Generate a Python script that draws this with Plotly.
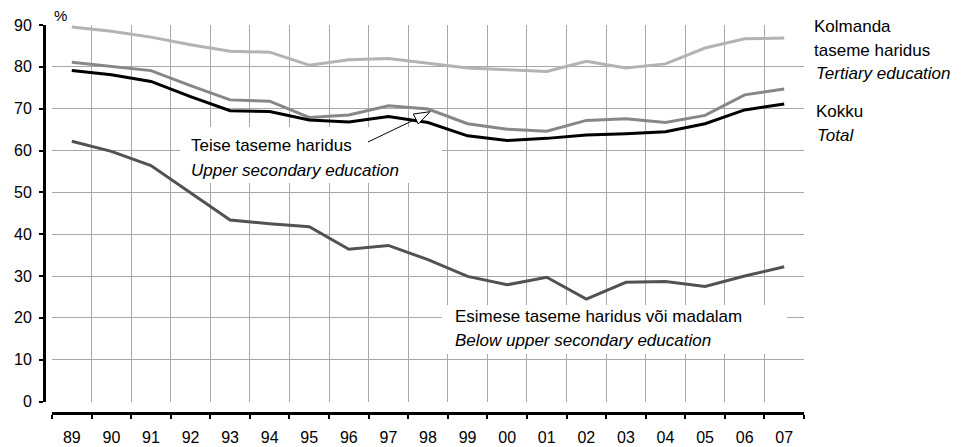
import plotly.graph_objects as go

# ---------------- data ----------------
years = ["89", "90", "91", "92", "93", "94", "95", "96", "97", "98",
         "99", "00", "01", "02", "03", "04", "05", "06", "07"]
tertiary = [89.5, 88.5, 87.1, 85.3, 83.7, 83.5, 80.4, 81.7, 82.0, 80.9,
            79.7, 79.3, 78.9, 81.3, 79.7, 80.7, 84.5, 86.7, 86.9]
upper_secondary = [81.1, 80.1, 79.1, 75.5, 72.1, 71.8, 67.9, 68.5, 70.7, 69.9,
                   66.4, 65.1, 64.6, 67.2, 67.6, 66.7, 68.4, 73.3, 74.7]
total = [79.1, 78.1, 76.5, 72.9, 69.5, 69.3, 67.3, 66.8, 68.1, 66.7,
         63.5, 62.4, 62.9, 63.7, 64.0, 64.5, 66.4, 69.7, 71.1]
below_upper = [62.2, 59.8, 56.4, 49.8, 43.4, 42.5, 41.8, 36.4, 37.3, 33.9,
               29.9, 27.9, 29.7, 24.5, 28.5, 28.7, 27.5, 30.0, 32.2]
y_ticks = [0, 10, 20, 30, 40, 50, 60, 70, 80, 90]

# ---------------- layout geometry (page pixel coords) ----------------
OFF = 8                      # default body margin of the html page
PAGE_W, PAGE_H = 966, 447
W, H = PAGE_W - OFF, PAGE_H - OFF
AX_LEFT, AX_BOT = 44, 413    # detached axis lines (page coords)
PX_LEFT, PX_RIGHT = 52, 804  # data area (page coords)
PY_TOP, PY_BOT = 25, 401.5

L = AX_LEFT - OFF
T = PY_TOP - OFF
R = PAGE_W - PX_RIGHT
B = PAGE_H - AX_BOT
IW, IH = W - L - R, H - T - B
n = len(years)
xs = list(range(n))
FONT = "Liberation Sans, Arial, sans-serif"


def px2x(px):
    return -0.5 + (px - PX_LEFT) / ((PX_RIGHT - PX_LEFT) / n)


def px2y(py):
    return (PY_BOT - py) / ((PY_BOT - PY_TOP) / 90)


def pap_x(px):
    return (px - AX_LEFT) / IW


def pap_y(py):
    return (AX_BOT - py) / IH


dx = (PX_LEFT - AX_LEFT) / IW
dy = (AX_BOT - PY_BOT) / IH
boundaries = [i - 0.5 for i in range(n + 1)]

fig = go.Figure()
series = [
    ("Tertiary education", tertiary, "#b3b3b3"),
    ("Upper secondary education", upper_secondary, "#878787"),
    ("Below upper secondary education", below_upper, "#525252"),
    ("Total", total, "#000000"),
]
for name, vals, col in series:
    fig.add_trace(go.Scatter(x=xs, y=vals, mode="lines", name=name,
                             line=dict(color=col, width=3), showlegend=False))

# dummy trace to carry the detached axes
fig.add_trace(go.Scatter(x=[None], y=[None], xaxis="x2", yaxis="y2",
                         mode="lines", showlegend=False, hoverinfo="skip"))

grid = "#a8a8a8"
fig.update_layout(
    width=W, height=H,
    margin=dict(l=L, r=R, t=T, b=B, pad=0, autoexpand=False),
    paper_bgcolor="white", plot_bgcolor="white",
    font=dict(family=FONT, size=16, color="black"),
    xaxis=dict(domain=[dx, 1], range=[-0.5, n - 0.5], tickmode="array",
               tickvals=boundaries, showticklabels=False, ticks="",
               showgrid=True, gridcolor=grid, gridwidth=1, automargin=False,
               zeroline=False, showline=False, fixedrange=True),
    yaxis=dict(domain=[dy, 1], range=[0, 90], tickmode="array",
               tickvals=y_ticks, showticklabels=False, ticks="",
               showgrid=True, gridcolor=grid, gridwidth=1, automargin=False,
               zeroline=False, showline=False, fixedrange=True),
    xaxis2=dict(overlaying="x", anchor="free", position=0, automargin=False,
                range=[-0.5, n - 0.5], tickmode="array", tickvals=xs,
                ticktext=years, ticks="", showgrid=False, zeroline=False,
                showline=True, linecolor="black", linewidth=3,
                tickfont=dict(size=16, family=FONT, color="black"),
                ticklabelstandoff=9,
                minor=dict(tickmode="array", tickvals=boundaries,
                           ticks="outside", ticklen=4, tickcolor="black",
                           tickwidth=1.5, showgrid=False)),
    yaxis2=dict(overlaying="y", anchor="free", position=0, range=[0, 90],
                automargin=False,
                tickmode="array", tickvals=y_ticks, ticks="outside",
                ticklen=4, tickcolor="black", tickwidth=1.5,
                showgrid=False, zeroline=False, showline=True,
                linecolor="black", linewidth=3,
                tickfont=dict(size=16, family=FONT, color="black"),
                ticklabelstandoff=4),
)

# white label backgrounds (between grid and traces)
for (x0, y0, x1, y1) in [(180, 127, 442, 183), (442, 305, 787, 354)]:
    fig.add_shape(type="rect", xref="x", yref="y",
                  x0=px2x(x0), x1=px2x(x1), y0=px2y(y1), y1=px2y(y0),
                  fillcolor="white", line=dict(width=0), layer="between")

# arrow for upper secondary label
fig.add_shape(type="line", xref="x", yref="y",
              x0=px2x(368), y0=px2y(142), x1=px2x(416), y1=px2y(119),
              line=dict(color="black", width=1))
tri = [(430, 111.7), (413.3, 114), (418.3, 124)]
path = "M {} {} L {} {} L {} {} Z".format(
    *[v for p in tri for v in (px2x(p[0]), px2y(p[1]))])
fig.add_shape(type="path", xref="x", yref="y", path=path,
              fillcolor="white", line=dict(color="black", width=1))

labels = [
    ("Teise taseme haridus", 189, 145.5, False),
    ("Upper secondary education", 189, 170.5, True),
    ("Esimese taseme haridus või madalam", 453, 316, False),
    ("Below upper secondary education", 453, 340.5, True),
    ("Kolmanda", 812, 26.5, False),
    ("taseme haridus", 812, 50.5, False),
    ("Tertiary education", 814, 73.5, True),
    ("Kokku", 814, 111.5, False),
    ("Total", 815, 135.5, True),
]
for txt, px, py, it in labels:
    fig.add_annotation(text=f"<i>{txt}</i>" if it else txt,
                       xref="paper", yref="paper", x=pap_x(px), y=pap_y(py),
                       xanchor="left", yanchor="middle", showarrow=False,
                       font=dict(size=17, family=FONT, color="black"))

fig.add_annotation(text="%", xref="paper", yref="paper", x=pap_x(60),
                   y=pap_y(15), xanchor="center", yanchor="middle",
                   showarrow=False, font=dict(size=15, family=FONT, color="black"))

fig.write_html("out.html")
